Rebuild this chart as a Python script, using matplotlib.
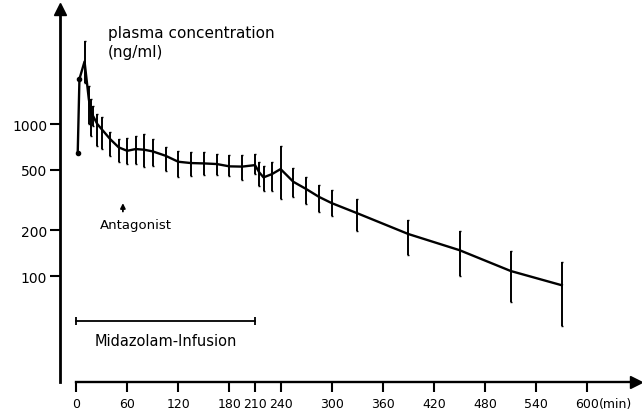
import numpy as np
import matplotlib
matplotlib.use("Agg")
import matplotlib.pyplot as plt
from matplotlib.ticker import FixedLocator, FixedFormatter, NullLocator

# sampling times (min) and plasma concentration (ng/ml), mean with error-bar limits
time_min = [2, 4, 10, 15, 17.5, 20, 25, 30, 40, 50, 60, 70, 80, 90,
            105, 120, 135, 150, 165, 180, 195, 210, 215, 220, 230, 240,
            255, 270, 285, 300, 330, 390, 450, 510, 570]
conc_mean = [650, 1980, 2580, 1460, 1200, 1130, 1000, 927, 797, 703, 667, 685, 678, 661,
             619, 565, 554, 551, 546, 527, 525, 537, 481, 446, 469, 506,
             417, 374, 332, 302, 259, 189, 148, 108, 87]
conc_low = [650, 1980, 1860, 1000, 840, 975, 720, 685, 619, 560, 546, 546, 519, 532,
            493, 446, 457, 460, 465, 455, 428, 469, 393, 364, 364, 321,
            329, 298, 263, 247, 199, 138, 100, 68, 47]
conc_high = [650, 1980, 3530, 1790, 1460, 1320, 1164, 1112, 882, 797, 805, 838, 860, 797,
             703, 667, 651, 651, 640, 625, 625, 638, 560, 527, 567, 720,
             511, 446, 397, 368, 321, 234, 199, 147, 123]

x_ticks = [0, 60, 120, 180, 210, 240, 300, 360, 420, 480, 540, 600]
y_ticks = [100, 200, 500, 1000]
y_labels = ['100', '200', '500', '1000']

infusion_start, infusion_end = 0, 210
antagonist_time = 55

plt.rcParams['font.family'] = ['DejaVu Sans']

fig = plt.figure(figsize=(6.42, 4.14), dpi=100)
ax = fig.add_axes([60 / 642, 31 / 414, 576 / 642, 373 / 414])
ax.set_yscale('log')
ax.set_xlim(-18.8, 657)
ax.set_ylim(20.1, 5715)

mean = np.array(conc_mean, dtype=float)
yerr = [mean - np.array(conc_low), np.array(conc_high) - mean]
ax.errorbar(time_min, mean, yerr=yerr, color='black', lw=1.7, elinewidth=1.4,
            capsize=0.8, capthick=1.0, marker='o', ms=3, markevery=[0, 1], clip_on=False)

# axes as arrows
for s in ['top', 'right']:
    ax.spines[s].set_visible(False)
ax.spines['left'].set_linewidth(2.0)
ax.spines['bottom'].set_linewidth(1.7)
ax.spines['bottom'].set_bounds(0, 657)
ax.plot([1], [0], marker='>', color='black', ms=8, transform=ax.transAxes, clip_on=False)
ax.plot([0], [1], marker='^', color='black', ms=8, transform=ax.transAxes, clip_on=False)

ax.xaxis.set_major_locator(FixedLocator(x_ticks))
ax.xaxis.set_major_formatter(FixedFormatter([str(t) for t in x_ticks]))
ax.yaxis.set_major_locator(FixedLocator(y_ticks))
ax.yaxis.set_major_formatter(FixedFormatter(y_labels))
ax.yaxis.set_minor_locator(NullLocator())
ax.tick_params(axis='x', length=7.2, width=1.5, pad=3.5, labelsize=9)
ax.tick_params(axis='y', length=7.5, width=1.5, pad=1.7, labelsize=10)

ax.annotate('(min)', xy=(614, 0), xycoords=('data', 'axes fraction'),
            xytext=(0, -10.7), textcoords='offset points', ha='left', va='top', fontsize=9)

# labels and annotations
ax.text(37.6, 4030, 'plasma concentration', fontsize=11, ha='left', va='center')
ax.text(37.6, 2995, '(ng/ml)', fontsize=11, ha='left', va='center')

ax.annotate('', xy=(antagonist_time, 315), xytext=(antagonist_time, 255),
            arrowprops=dict(arrowstyle='-|>', color='black', lw=1.3, mutation_scale=7))
ax.text(70, 220, 'Antagonist', fontsize=9.5, ha='center', va='center')

trans = ax.get_xaxis_transform()
ax.plot([infusion_start, infusion_end], [0.1635, 0.1635], color='black', lw=1.3,
        marker='|', ms=6, mew=1.3, transform=trans)
ax.text((infusion_start + infusion_end) / 2, 0.111, 'Midazolam-Infusion', fontsize=10.5,
        ha='center', va='center', transform=trans)

fig.savefig('out.png', dpi=100)
